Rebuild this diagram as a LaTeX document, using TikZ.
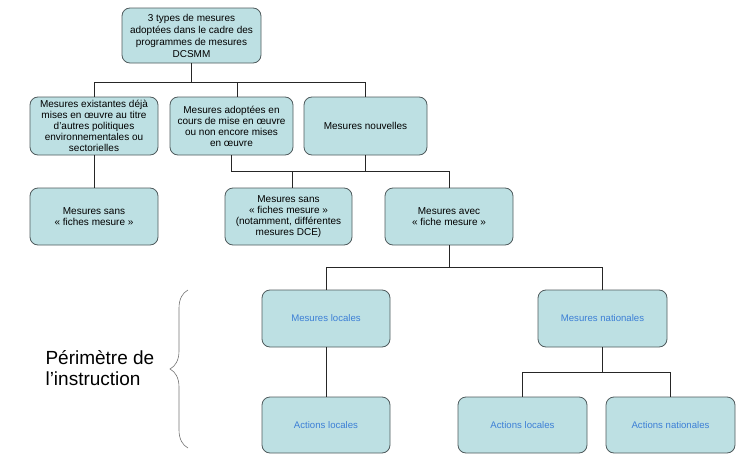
\documentclass[tikz,border=0pt]{standalone}
\usepackage{fontspec}
\setmainfont{Liberation Sans}
\usetikzlibrary{decorations.pathreplacing}
\definecolor{boxfill}{HTML}{BDE0E3}
\definecolor{boxline}{HTML}{4F5B5D}
\definecolor{bluetext}{HTML}{3C7FD6}

\begin{document}
\begin{tikzpicture}[x=1pt,y=-1pt,
    mesure/.style={draw=boxline,fill=boxfill,rounded corners=8pt,line width=0.8pt,
      minimum width=128pt,minimum height=57pt,inner sep=0pt,align=center,
      font=\fontsize{10}{11}\selectfont},
    action/.style={mesure,text=bluetext,font=\fontsize{9.6}{11}\selectfont},
    lien/.style={draw=black!85,line width=0.7pt}]
    \useasboundingbox (0,0) rectangle (750,463);

    \node[mesure,minimum width=139pt,minimum height=55pt,font=\fontsize{10}{12}\selectfont] (types) at (191.5,35.5) {3 types de mesures\\adoptées dans le cadre des\\programmes de mesures\\DCSMM};

    \node[mesure,minimum height=58pt] (existantes) at (94,126) {Mesures existantes déjà\\mises en œuvre au titre\\d’autres politiques\\environnementales ou\\sectorielles};
    \node[mesure,minimum width=123pt,minimum height=58pt] (adoptees) at (231.5,126) {Mesures adoptées en\\cours de mise en œuvre\\ou non encore mises\\en œuvre};
    \node[mesure,minimum width=123pt,minimum height=58pt] (nouvelles) at (365.5,126) {Mesures nouvelles};

    \node[mesure] (sansfiche) at (94,216.5) {Mesures sans\\« fiches mesure »};
    \node[mesure,minimum width=127pt] (sansfiches) at (288.5,216.5) {Mesures sans\\« fiches mesure »\\(notamment, différentes\\mesures DCE)};
    \node[mesure] (avecfiche) at (449,216.5) {Mesures avec\\« fiche mesure »};

    \node[action] (mlocales) at (326,318.5) {Mesures locales};
    \node[action,minimum width=129pt] (mnationales) at (602.5,318.5) {Mesures nationales};

    \node[action,minimum height=56pt] (alocales) at (326,425) {Actions locales};
    \node[action,minimum width=129pt,minimum height=56pt] (alocalesbis) at (522.5,425) {Actions locales};
    \node[action,minimum width=129pt,minimum height=56pt] (anationales) at (670.5,425) {Actions nationales};

    \coordinate (r1) at (0,82);
    \coordinate (r2) at (0,171);
    \coordinate (r3) at (0,267);
    \coordinate (r4) at (0,372);
    \coordinate (b1) at ([xshift=5.5pt]adoptees.north);
    \coordinate (b2) at ([xshift=3.5pt]sansfiches.north);

    \draw[lien] (types.south) -- (types.south |- r1);
    \draw[lien] (existantes.north) |- (nouvelles.north |- r1) -- (nouvelles.north);
    \draw[lien] (b1) -- (b1 |- r1);
    \draw[lien] (existantes.south) -- (sansfiche.north);

    \draw[lien] (adoptees.south) |- (avecfiche.north |- r2) -- (avecfiche.north);
    \draw[lien] (nouvelles.south) -- (nouvelles.south |- r2);
    \draw[lien] (b2) -- (b2 |- r2);

    \draw[lien] (avecfiche.south) -- (avecfiche.south |- r3);
    \draw[lien] (mlocales.north) |- (mnationales.north |- r3) -- (mnationales.north);
    \draw[lien] (mlocales.south) -- (alocales.north);

    \draw[lien] (mnationales.south) -- (mnationales.south |- r4);
    \draw[lien] (alocalesbis.north) |- (anationales.north |- r4) -- (anationales.north);

    \draw[decorate,decoration={brace,amplitude=18pt},draw=black!55,line width=0.6pt] (188,448) -- (188,290);
    \node[anchor=west,align=left,font=\fontsize{19}{21}\selectfont] (perimetre) at (42,368) {Périmètre de\\l’instruction};
\end{tikzpicture}
\end{document}
